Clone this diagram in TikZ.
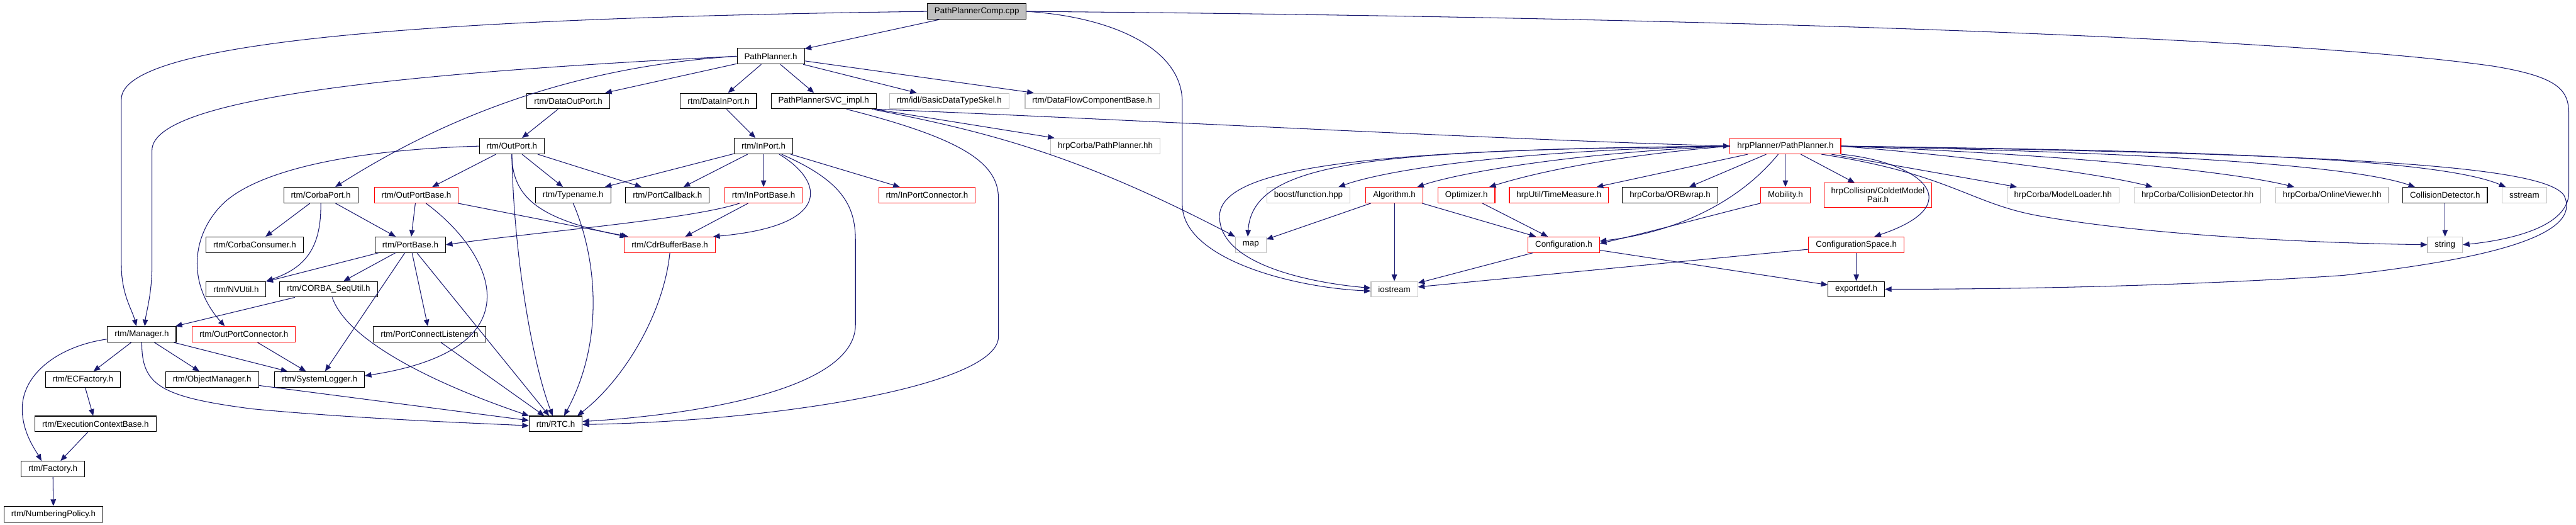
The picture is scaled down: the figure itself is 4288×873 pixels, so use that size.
\documentclass[tikz,border=0pt]{standalone}
\usepackage{fontspec}
\setmainfont{Liberation Sans}
\usetikzlibrary{arrows.meta}
\definecolor{edgec}{HTML}{191970}
\definecolor{grayb}{HTML}{BFBFBF}
\definecolor{redb}{HTML}{FF0000}
\tikzset{
  base/.style={rectangle, minimum height=26pt, inner xsep=12pt, inner ysep=0pt,
    font=\fontsize{14}{16}\selectfont, line width=1.1pt, fill=white, align=center},
  bbox/.style={base, draw=black},
  rbox/.style={base, draw=redb},
  gbox/.style={base, draw=grayb},
  rootbox/.style={base, draw=black, fill=grayb},
  e/.style={draw=edgec, line width=1.1pt, -{Triangle[length=11pt,width=9pt]}},
}
\begin{document}
\begin{tikzpicture}[x=1pt,y=-1pt]
\useasboundingbox (0,0) rectangle (4288,873);
% rows: 19, 93.5, 168, 243, 324.5, 407, 481, 556, 631, 705, 780, 855
\node[rootbox] (comp) at (1626,19) {PathPlannerComp.cpp};
\node[bbox] (pp) at (1283,93.5) {PathPlanner.h};
\node[bbox] (dop) at (946,168) {rtm/DataOutPort.h};
\node[bbox] (dip) at (1196,168) {rtm/DataInPort.h};
\node[bbox] (svc) at (1371,168) {PathPlannerSVC\_impl.h};
\node[gbox] (bdts) at (1580,168) {rtm/idl/BasicDataTypeSkel.h};
\node[gbox] (dfcb) at (1818,168) {rtm/DataFlowComponentBase.h};
\node[bbox] (op) at (852,243) {rtm/OutPort.h};
\node[bbox] (ip) at (1271,243) {rtm/InPort.h};
\node[gbox] (hpphh) at (1840,243) {hrpCorba/PathPlanner.hh};
\node[rbox] (hpp) at (2972,243) {hrpPlanner/PathPlanner.h};
\node[bbox] (cp) at (534,324.5) {rtm/CorbaPort.h};
\node[rbox] (opb) at (693,324.5) {rtm/OutPortBase.h};
\node[bbox] (tn) at (954,324.5) {rtm/Typename.h};
\node[bbox] (pcb) at (1111,324.5) {rtm/PortCallback.h};
\node[rbox] (ipb) at (1271,324.5) {rtm/InPortBase.h};
\node[rbox] (ipc) at (1543,324.5) {rtm/InPortConnector.h};
\node[gbox] (bf) at (2178,324.5) {boost/function.hpp};
\node[rbox] (alg) at (2321,324.5) {Algorithm.h};
\node[rbox] (opt) at (2441,324.5) {Optimizer.h};
\node[rbox] (tm) at (2595,324.5) {hrpUtil/TimeMeasure.h};
\node[bbox] (orb) at (2780,324.5) {hrpCorba/ORBwrap.h};
\node[rbox] (mob) at (2972,324.5) {Mobility.h};
\node[rbox, minimum height=40pt, font=\fontsize{14}{15}\selectfont] (cmp) at (3126,324.5) {hrpCollision/ColdetModel\\Pair.h};
\node[gbox] (ml) at (3434,324.5) {hrpCorba/ModelLoader.hh};
\node[gbox] (cdhh) at (3658,324.5) {hrpCorba/CollisionDetector.hh};
\node[gbox] (ov) at (3882,324.5) {hrpCorba/OnlineViewer.hh};
\node[bbox] (cd) at (4070,324.5) {CollisionDetector.h};
\node[gbox] (ss) at (4202,324.5) {sstream};
\node[bbox] (cc) at (424,407) {rtm/CorbaConsumer.h};
\node[bbox] (pb) at (683,407) {rtm/PortBase.h};
\node[rbox] (cdr) at (1115,407) {rtm/CdrBufferBase.h};
\node[gbox] (map) at (2082,407) {map};
\node[rbox] (conf) at (2603,407) {Configuration.h};
\node[rbox] (cs) at (3090,407) {ConfigurationSpace.h};
\node[gbox] (str) at (4070,407) {string};
\node[bbox] (nv) at (393,481) {rtm/NVUtil.h};
\node[bbox] (seq) at (547,481) {rtm/CORBA\_SeqUtil.h};
\node[gbox] (ios) at (2321,481) {iostream};
\node[bbox] (ed) at (3090,481) {exportdef.h};
\node[bbox] (mgr) at (236,556) {rtm/Manager.h};
\node[rbox] (opc) at (406,556) {rtm/OutPortConnector.h};
\node[bbox] (pcl) at (715,556) {rtm/PortConnectListener.h};
\node[bbox] (ecf) at (138,631) {rtm/ECFactory.h};
\node[bbox] (om) at (353,631) {rtm/ObjectManager.h};
\node[bbox] (sl) at (532,631) {rtm/SystemLogger.h};
\node[bbox] (ecb) at (159,705) {rtm/ExecutionContextBase.h};
\node[bbox] (rtc) at (925,705) {rtm/RTC.h};
\node[bbox] (fac) at (88,780) {rtm/Factory.h};
\node[bbox] (np) at (89,855) {rtm/NumberingPolicy.h};

% top level
\draw[e] (comp) -- (pp);
\draw[e] (comp.west) .. controls (700,30) and (202,70) .. (202,165) -- (202,440) .. controls (202,490) and (220,515) .. ([xshift=-9pt]mgr.north);
\draw[e] (pp.west) .. controls (700,120) and (253,160) .. (253,250) -- (253,440) .. controls (253,490) and (243,520) .. ([xshift=5pt]mgr.north);
\draw[e] (pp.west) .. controls (1000,108) and (780,170) .. ([xshift=24pt]cp.north);
\draw[e] (pp) -- (dop);
\draw[e] (pp) -- (dip);
\draw[e] (pp) -- (svc);
\draw[e] (pp) -- (bdts);
\draw[e] (pp) -- (dfcb);
\draw[e] (svc.south east) .. controls (1900,200) and (2500,232) .. (hpp.west);
\draw[e] (svc) -- (hpphh);
\draw[e] ([xshift=-8pt]svc.south east) .. controls (1650,220) and (1800,260) .. (map.north west);
\draw[e] ([xshift=38pt]svc.south) .. controls (1600,230) and (1662,270) .. (1662,330) -- (1662,560) .. controls (1662,640) and (1300,700) .. ([yshift=-1pt]rtc.east);
% left cluster
\draw[e] (dop) -- (op);
\draw[e] (dip) -- (ip);
\draw[e] (op) -- (opb);
\draw[e] (op) -- (tn);
\draw[e] (op) -- (pcb);
\draw[e] (op.south) .. controls (852,330) and (900,365) .. ([xshift=4pt]cdr.north west);
\draw[e] (op.south) .. controls (855,420) and (885,600) .. ([xshift=-5pt]rtc.north);
\draw[e] (op.west) .. controls (560,250) and (420,290) .. (370,340) .. controls (320,390) and (310,470) .. ([xshift=-32pt]opc.north);
\draw[e] (ip) -- (tn);
\draw[e] (ip) -- (pcb);
\draw[e] (ip) -- (ipb);
\draw[e] ([xshift=26pt]ip.south) .. controls (1370,300) and (1390,375) .. ([xshift=-4pt]cdr.north east);
\draw[e] ([xshift=30pt]ip.south) .. controls (1400,300) and (1424,340) .. (1424,400) -- (1424,540) .. controls (1424,650) and (1150,690) .. ([yshift=4pt]rtc.east);
\draw[e] (ip) -- (ipc);
\draw[e] (opb) -- (pb);
\draw[e] (opb) -- (cdr);
\draw[e] ([xshift=16pt]opb.south) .. controls (820,420) and (900,580) .. ([yshift=6pt]sl.east);
\draw[e] ([xshift=-40pt]ipb.south) .. controls (1150,365) and (900,385) .. (pb.east);
\draw[e] (ipb) -- (cdr);
\draw[e] (tn.south) .. controls (990,420) and (1010,560) .. ([xshift=14pt]rtc.north);
\draw[e] (cdr.south) .. controls (1105,520) and (1040,630) .. ([xshift=36pt]rtc.north);
\draw[e] (cp) -- (cc);
\draw[e] (cp) -- (pb);
\draw[e] (cp.south) .. controls (535,410) and (510,445) .. (nv.north east);
\draw[e] (pb) -- (nv);
\draw[e] (pb) -- (seq);
\draw[e] (pb) -- (sl);
\draw[e] (pb) -- (pcl);
\draw[e] (pb) -- (rtc);
\draw[e] (seq) -- (mgr);
\draw[e] ([xshift=6pt]seq.south) .. controls (575,560) and (700,630) .. (rtc.north west);
\draw[e] (mgr) -- (ecf);
\draw[e] (mgr) -- (om);
\draw[e] (mgr) -- (sl);
\draw[e] (mgr.south) .. controls (236,640) and (265,660) .. (420,680) .. controls (600,697) and (800,704) .. ([yshift=-3pt]rtc.west);
\draw[e] ([yshift=-8pt]mgr.west) .. controls (100,575) and (37,620) .. (37,680) .. controls (37,720) and (60,750) .. ([xshift=-19pt]fac.north);
\draw[e] (ecf) -- (ecb);
\draw[e] (ecb) -- (fac);
\draw[e] (fac) -- (np);
\draw[e] (om) -- (rtc);
\draw[e] (opc) -- (sl);
\draw[e] (pcl) -- (rtc);
% right part
\draw[e] (hpp.west) .. controls (2500,250) and (2300,285) .. ([xshift=50pt]bf.north);
\draw[e] (hpp.west) .. controls (2600,255) and (2420,290) .. ([xshift=38pt]alg.north);
\draw[e] (hpp.west) .. controls (2650,262) and (2530,295) .. ([xshift=38pt]opt.north);
\draw[e] (hpp) -- (tm);
\draw[e] (hpp) -- (orb);
\draw[e] (hpp) -- (mob);
\draw[e] (hpp) -- (cmp);
\draw[e] ([xshift=-12pt]hpp.south) .. controls (2900,330) and (2800,385) .. ([yshift=6pt]conf.east);
\draw[e] (mob.south west) .. controls (2880,350) and (2750,385) .. ([yshift=2pt]conf.east);
\draw[e] (hpp.south east) .. controls (3200,270) and (3280,340) .. ([xshift=30pt]cs.north);
\draw[e] (hpp) -- (ml);
\draw[e] (hpp.east) .. controls (3300,262) and (3500,290) .. ([xshift=-75pt]cdhh.north);
\draw[e] (hpp.east) .. controls (3400,255) and (3700,282) .. ([xshift=-63pt]ov.north);
\draw[e] (hpp.east) .. controls (3500,252) and (3900,270) .. ([xshift=-50pt]cd.north);
\draw[e] (hpp.east) .. controls (3600,250) and (4050,260) .. ([xshift=-31pt]ss.north);
\draw[e] (hpp.east) .. controls (3900,256) and (4235,275) .. (4268,325) .. controls (4300,390) and (4150,430) .. (3900,458) .. controls (3600,478) and (3300,481) .. (ed.east);
\draw[e] ([xshift=60pt]hpp.south) .. controls (3250,290) and (3280,340) .. (3400,360) .. controls (3600,395) and (3900,405) .. (str.west);
\draw[e] (hpp.west) .. controls (2300,250) and (2085,265) .. ([xshift=-5pt]map.north);
\draw[e] (hpp.west) .. controls (2300,248) and (2030,275) .. (2030,360) .. controls (2030,445) and (2200,472) .. ([yshift=2pt]ios.west);
\draw[e] (comp.east) .. controls (1850,28) and (1968,80) .. (1968,170) -- (1968,340) .. controls (1968,430) and (2150,478) .. ([yshift=-3pt]ios.west);
\draw[e] (comp.east) .. controls (2800,28) and (3800,60) .. (4150,110) .. controls (4260,128) and (4276,150) .. (4276,190) -- (4276,320) .. controls (4276,385) and (4150,402) .. (str.east);
\draw[e] (cd) -- (str);
\draw[e] (alg) -- (map);
\draw[e] (alg) -- (ios);
\draw[e] (alg) -- (conf);
\draw[e] (opt) -- (conf);
\draw[e] (conf) -- (ios);
\draw[e] (conf) -- (ed);
\draw[e] (cs) -- (ios);
\draw[e] (cs) -- (ed);
\end{tikzpicture}
\end{document}
